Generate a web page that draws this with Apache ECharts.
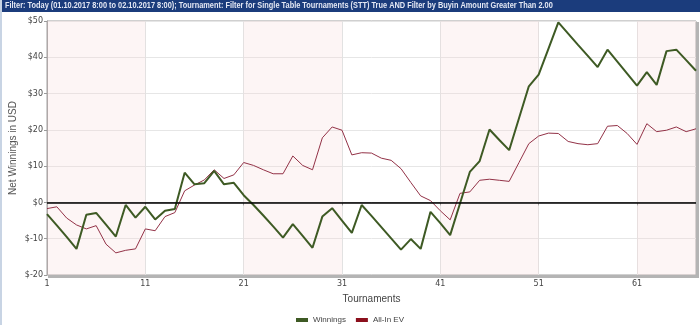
<!DOCTYPE html>
<html>
<head>
<meta charset="utf-8">
<script src="https://cdn.jsdelivr.net/npm/echarts@6/dist/echarts.min.js"></script>
<style>
html,body{margin:0;padding:0;background:#fff;}
#c{width:700px;height:325px;}
</style>
</head>
<body>
<div id="c"></div>
<script>
var titleText = "Filter: Today (01.10.2017 8:00 to 02.10.2017 8:00); Tournament: Filter for Single Table Tournaments (STT) True AND Filter by Buyin Amount Greater Than 2.00";
var tournaments = [];
for (var i = 1; i <= 67; i++) tournaments.push(String(i));
var winnings = [-3.2, -6.3, -9.5, -12.8, -3.4, -2.9, -6.1, -9.4, -0.7, -4.2,
  -1.2, -4.7, -2.3, -1.8, 8.2, 5.0, 5.3, 8.7, 5.0, 5.4,
  2.0, -0.7, -3.6, -6.6, -9.7, -6.0, -9.2, -12.5, -3.9, -1.6,
  -5.0, -8.4, -0.7, -3.7, -6.8, -9.9, -13.0, -10.1, -12.8, -2.6,
  -5.7, -9.0, -0.3, 8.4, 11.4, 20.1, 17.2, 14.4, 23.2, 32.0,
  35.2, 42.4, 49.6, 46.5, 43.4, 40.4, 37.3, 42.1, 38.8, 35.5,
  32.2, 35.9, 32.4, 41.7, 42.1, 39.2, 36.3];
var allInEV = [-1.7, -1.2, -4.3, -6.2, -7.3, -6.4, -11.5, -13.9, -13.2, -12.8,
  -7.3, -7.8, -3.9, -2.8, 3.2, 4.8, 6.2, 9.0, 6.6, 7.6,
  11.0, 10.2, 9.0, 7.9, 7.9, 12.8, 10.2, 9.0, 17.8, 20.8,
  19.9, 13.1, 13.7, 13.6, 12.2, 11.6, 9.3, 5.5, 1.8, 0.5,
  -2.3, -4.8, 2.5, 2.9, 6.1, 6.4, 6.1, 5.8, 11.0, 16.2,
  18.3, 19.1, 19.0, 16.8, 16.2, 15.9, 16.2, 21.0, 21.2, 19.0,
  16.0, 21.7, 19.5, 19.9, 20.8, 19.5, 20.3];
var bandStarts = ['1', '21', '41', '61'];
var bandEnds = ['11', '31', '51', '67'];
var yMin = -20, yMax = 50, yStep = 10;

var bands = bandStarts.map(function (s, k) { return [{xAxis: s}, {xAxis: bandEnds[k]}]; });

var chart = echarts.init(document.getElementById('c'), null, {renderer: 'canvas'});
var font = "'Liberation Sans', Arial, sans-serif";
var tickFont = "'DejaVu Sans', sans-serif";
chart.setOption({
  animation: false,
  backgroundColor: '#ffffff',
  graphic: [
    {type: 'rect', left: 0, top: 0, z: 10, shape: {width: 700, height: 12}, style: {fill: '#1b3c7c'}},
    {type: 'rect', left: 0, top: 0, z: 11, shape: {width: 2, height: 325}, style: {fill: '#c8d4e4'}},
    {type: 'text', x: 5, y: 1.5, scaleX: 0.82, z: 12, style: {text: titleText, fill: '#e4e8f4', font: "bold 9px 'Liberation Sans', Arial, sans-serif"}},
    {type: 'rect', left: 48, top: 275, z: 1, shape: {width: 651, height: 3}, style: {fill: '#b4b4b4'}},
    {type: 'rect', left: 696, top: 22, z: 1, shape: {width: 3, height: 256}, style: {fill: '#b4b4b4'}}
  ],
  legend: {
    top: 311, left: 'center', itemWidth: 12, itemHeight: 4, itemGap: 10,
    icon: 'rect',
    textStyle: {fontSize: 8, color: '#444', fontFamily: font},
    data: ['Winnings', 'All-In EV']
  },
  grid: {
    left: 47, right: 4, top: 21, bottom: 50, show: true,
    borderColor: '#a0a0a0', borderWidth: 1,
    outerBoundsMode: 'none', containLabel: false
  },
  xAxis: {
    type: 'category', data: tournaments, boundaryGap: false,
    name: 'Tournaments', nameLocation: 'middle', nameGap: 19,
    nameTextStyle: {fontSize: 10, color: '#444', fontFamily: font},
    axisLine: {show: true, lineStyle: {color: '#999', width: 1}},
    axisTick: {show: true, interval: 9, length: 3, lineStyle: {color: '#999'}},
    axisLabel: {interval: 9, fontSize: 8, color: '#444', margin: 5, fontFamily: tickFont},
    splitLine: {show: true, interval: 9, lineStyle: {color: '#e2e2e2', width: 1}},
    splitArea: {show: false}
  },
  yAxis: {
    type: 'value', min: yMin, max: yMax, interval: yStep,
    name: 'Net Winnings in USD', nameLocation: 'middle', nameGap: 29, nameMoveOverlap: false,
    nameTextStyle: {fontSize: 10, color: '#555', fontFamily: font},
    axisLine: {show: true, lineStyle: {color: '#999', width: 1}},
    axisTick: {show: true, length: 3, lineStyle: {color: '#999'}},
    axisLabel: {fontSize: 8, color: '#444', margin: 4, fontFamily: tickFont,
      formatter: function (v) { return '$' + v; }},
    splitLine: {show: true, lineStyle: {color: '#e6e6e6', width: 1}}
  },
  series: [
    {
      name: 'Winnings', type: 'line', data: winnings, symbol: 'none',
      lineStyle: {color: '#3e5a24', width: 2}, itemStyle: {color: '#3e5a24'}, z: 3,
      markLine: {silent: true, symbol: 'none', label: {show: false},
        lineStyle: {color: '#000', width: 1.5, type: 'solid'}, data: [{yAxis: 0}]}
    },
    {
      name: 'All-In EV', type: 'line', data: allInEV, symbol: 'none',
      lineStyle: {color: '#933247', width: 1}, itemStyle: {color: '#8b0f1c'}, z: 2,
      markArea: {silent: true, itemStyle: {color: 'rgba(248,215,215,0.25)'}, data: bands}
    }
  ]
});
</script>
</body>
</html>
